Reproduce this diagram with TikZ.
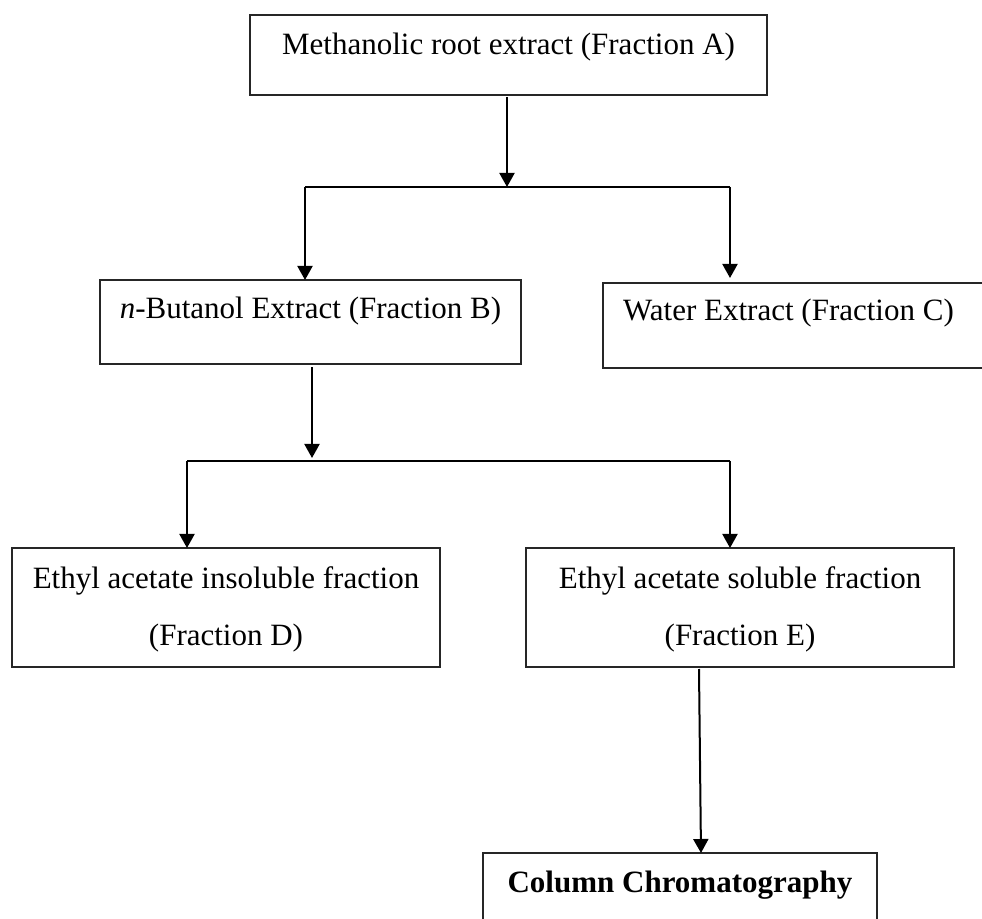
\documentclass[tikz,border=0pt]{standalone}
\usepackage{fontspec}
\setmainfont{Liberation Serif}
\usetikzlibrary{arrows.meta}
\begin{document}
\begin{tikzpicture}[x=0.4pt,y=-0.4pt,
  box/.style={draw=black!85, line width=0.6pt, rectangle, inner sep=0pt, outer sep=0pt,
    anchor=north west, font=\fontsize{12.4}{22.8}\selectfont},
  wire/.style={line width=0.8pt, black},
  arr/.style={wire, -{Triangle[width=6pt,length=5.6pt]}}
]
\useasboundingbox (0,0) rectangle (982,919);

\node[box, minimum width=206.8pt, text height=16pt, text depth=16pt] (A) at (250,15)
  {Methanolic root extract (Fraction A)};
\node[box, minimum width=168.4pt, text height=15.6pt, text depth=18pt] (B) at (100,280)
  {\textit{n}-Butanol Extract (Fraction B)};
\node[box, minimum width=160pt, text height=14.8pt, text depth=19.2pt] (C) at (603,283)
  {Water Extract (Fraction C)\hspace*{11.6pt}};
\node[box, minimum width=171.2pt, text height=16pt, text depth=31.6pt] (D) at (12,548)
  {\begin{tabular}[t]{@{}c@{}}Ethyl acetate insoluble fraction\\(Fraction D)\end{tabular}};
\node[box, minimum width=171.2pt, text height=16pt, text depth=31.6pt] (E) at (526,548)
  {\begin{tabular}[t]{@{}c@{}}Ethyl acetate soluble fraction\\(Fraction E)\end{tabular}};
\node[box, minimum width=157.6pt, text height=15.6pt, text depth=30pt] (F) at (483,853)
  {\textbf{Column Chromatography}};

% first split
\coordinate (jA) at (507,187);
\coordinate (jL) at (305,187);
\coordinate (jR) at (730,187);
\draw[arr, shorten <=0.8pt] (A.south -| jA) -- (jA);
\draw[wire] (jL) -- (jR);
\draw[arr] (jL) -- (jL |- B.north);
\draw[arr, shorten >=2pt] (jR) -- (jR |- C.north);

% second split
\coordinate (jB) at (312,458);
\coordinate (kL) at (187,461);
\coordinate (kR) at (730,461);
\draw[arr, shorten <=1.2pt] (B.south -| jB) -- (jB);
\draw[wire] (kL) -- (kR);
\draw[arr] (kL) -- (kL |- D.north);
\draw[arr] (kR) -- (kR |- E.north);

% to column chromatography
\coordinate (eS) at (699,669);
\coordinate (fN) at (701,853);
\draw[arr] (eS) -- (fN);
\end{tikzpicture}
\end{document}
